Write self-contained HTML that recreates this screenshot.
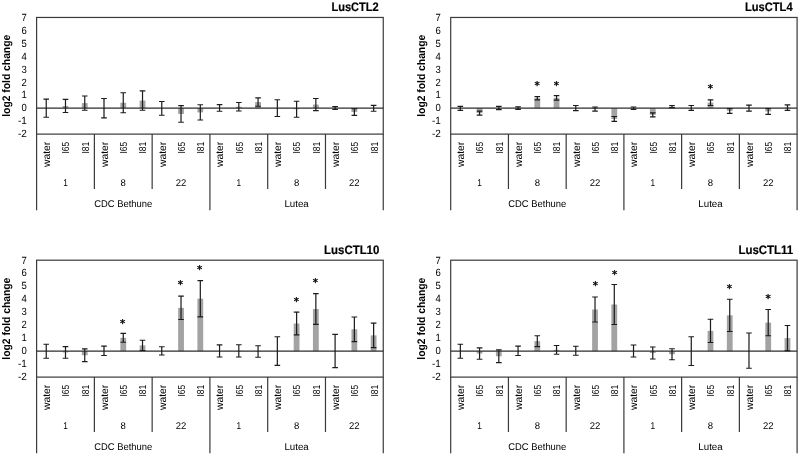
<!DOCTYPE html>
<html lang="en">
<head>
<meta charset="utf-8">
<title>log2 fold change of LusCTL genes</title>
<style>
html,body{margin:0;padding:0;background:#fff;}
body{width:800px;height:456px;overflow:hidden;}
svg{display:block;}
svg text{font-family:"Liberation Sans","DejaVu Sans",sans-serif;fill:#000;text-rendering:geometricPrecision;}
svg text.st{font-family:"DejaVu Sans","Liberation Sans",sans-serif;font-weight:normal;font-size:10.5px;stroke:#000;stroke-width:0.38px;}
</style>
</head>
<body>
<svg width="800" height="456" viewBox="0 0 800 456">
<defs><filter id="soft" x="0" y="0" width="800" height="456" filterUnits="userSpaceOnUse"><feGaussianBlur stdDeviation="0.35"/></filter></defs>
<rect x="0" y="0" width="800" height="456" fill="#ffffff"/>
<g filter="url(#soft)">
<g>
<rect x="62.59" y="105.95" width="5.8" height="2.27" fill="#a3a3a3"/>
<rect x="81.85" y="103.12" width="5.8" height="5.09" fill="#a3a3a3"/>
<rect x="120.36" y="102.75" width="5.8" height="5.47" fill="#a3a3a3"/>
<rect x="139.62" y="100.58" width="5.8" height="7.64" fill="#a3a3a3"/>
<rect x="178.14" y="108.22" width="5.8" height="5.7" fill="#a3a3a3"/>
<rect x="197.4" y="108.22" width="5.8" height="4.16" fill="#a3a3a3"/>
<rect x="235.91" y="106.75" width="5.8" height="1.47" fill="#a3a3a3"/>
<rect x="255.17" y="102.08" width="5.8" height="6.14" fill="#a3a3a3"/>
<rect x="293.69" y="108.22" width="5.8" height="1.03" fill="#a3a3a3"/>
<rect x="312.95" y="104.55" width="5.8" height="3.67" fill="#a3a3a3"/>
<rect x="351.46" y="108.22" width="5.8" height="3.86" fill="#a3a3a3"/>
<rect x="36.6" y="17.45" width="346.65" height="116.65" fill="none" stroke="#3a3a3a" stroke-width="1.2"/>
<line x1="36.6" y1="108.22" x2="383.25" y2="108.22" stroke="#2c2c2c" stroke-width="1.3"/>
<path d="M46.23 99.2V117.25M43.43 99.2h5.6M43.43 117.25h5.6M65.49 99.4V112.5M62.69 99.4h5.6M62.69 112.5h5.6M84.75 96V110.25M81.95 96h5.6M81.95 110.25h5.6M104 98.5V117.9M101.2 98.5h5.6M101.2 117.9h5.6M123.26 92.75V112.75M120.46 92.75h5.6M120.46 112.75h5.6M142.52 90.9V110.25M139.72 90.9h5.6M139.72 110.25h5.6M161.78 101.5V115.25M158.98 101.5h5.6M158.98 115.25h5.6M181.04 105.6V122.25M178.24 105.6h5.6M178.24 122.25h5.6M200.3 104.75V120M197.5 104.75h5.6M197.5 120h5.6M219.55 104.6V111.25M216.75 104.6h5.6M216.75 111.25h5.6M238.81 102.5V111M236.01 102.5h5.6M236.01 111h5.6M258.07 97.9V106.25M255.27 97.9h5.6M255.27 106.25h5.6M277.33 99.75V116.5M274.53 99.75h5.6M274.53 116.5h5.6M296.59 101.25V117.25M293.79 101.25h5.6M293.79 117.25h5.6M315.85 98.5V110.6M313.05 98.5h5.6M313.05 110.6h5.6M335.1 106.6V109.5M332.3 106.6h5.6M332.3 109.5h5.6M354.36 108.75V115.4M351.56 108.75h5.6M351.56 115.4h5.6M373.62 105.4V111.25M370.82 105.4h5.6M370.82 111.25h5.6" fill="none" stroke="#1a1a1a" stroke-width="1.2"/>
<path d="M36.6 134.1V210.3M94.38 134.1V188.9M152.15 134.1V188.9M209.92 134.1V210.3M267.7 134.1V188.9M325.48 134.1V188.9M383.25 134.1V210.3" fill="none" stroke="#3a3a3a" stroke-width="1.2"/>
<text x="378.75" y="11.25" text-anchor="end" font-weight="bold" font-size="12.3" stroke="#000" stroke-width="0.2" textLength="47.3" lengthAdjust="spacingAndGlyphs">LusCTL2</text>
<text x="26.8" y="137.34" text-anchor="end" font-size="10.4" textLength="8.9" lengthAdjust="spacingAndGlyphs">-2</text>
<text x="26.8" y="124.38" text-anchor="end" font-size="10.4" textLength="8.9" lengthAdjust="spacingAndGlyphs">-1</text>
<text x="26.8" y="111.42" text-anchor="end" font-size="10.4" textLength="5.3" lengthAdjust="spacingAndGlyphs">0</text>
<text x="26.8" y="98.46" text-anchor="end" font-size="10.4" textLength="5.3" lengthAdjust="spacingAndGlyphs">1</text>
<text x="26.8" y="85.5" text-anchor="end" font-size="10.4" textLength="5.3" lengthAdjust="spacingAndGlyphs">2</text>
<text x="26.8" y="72.54" text-anchor="end" font-size="10.4" textLength="5.3" lengthAdjust="spacingAndGlyphs">3</text>
<text x="26.8" y="59.58" text-anchor="end" font-size="10.4" textLength="5.3" lengthAdjust="spacingAndGlyphs">4</text>
<text x="26.8" y="46.61" text-anchor="end" font-size="10.4" textLength="5.3" lengthAdjust="spacingAndGlyphs">5</text>
<text x="26.8" y="33.65" text-anchor="end" font-size="10.4" textLength="5.3" lengthAdjust="spacingAndGlyphs">6</text>
<text x="26.8" y="20.69" text-anchor="end" font-size="10.4" textLength="5.3" lengthAdjust="spacingAndGlyphs">7</text>
<text transform="translate(10.4 75.77) rotate(-90)" text-anchor="middle" font-weight="bold" font-size="11" textLength="82" lengthAdjust="spacingAndGlyphs">log2 fold change</text>
<text transform="translate(50.13 141.7) rotate(-90)" text-anchor="end" font-size="10.2" textLength="25.3" lengthAdjust="spacingAndGlyphs">water</text>
<text transform="translate(69.39 141.7) rotate(-90)" text-anchor="end" font-size="10.2" textLength="11.8" lengthAdjust="spacingAndGlyphs">I65</text>
<text transform="translate(88.65 141.7) rotate(-90)" text-anchor="end" font-size="10.2" textLength="11.8" lengthAdjust="spacingAndGlyphs">I81</text>
<text transform="translate(107.9 141.7) rotate(-90)" text-anchor="end" font-size="10.2" textLength="25.3" lengthAdjust="spacingAndGlyphs">water</text>
<text transform="translate(127.16 141.7) rotate(-90)" text-anchor="end" font-size="10.2" textLength="11.8" lengthAdjust="spacingAndGlyphs">I65</text>
<text transform="translate(146.42 141.7) rotate(-90)" text-anchor="end" font-size="10.2" textLength="11.8" lengthAdjust="spacingAndGlyphs">I81</text>
<text transform="translate(165.68 141.7) rotate(-90)" text-anchor="end" font-size="10.2" textLength="25.3" lengthAdjust="spacingAndGlyphs">water</text>
<text transform="translate(184.94 141.7) rotate(-90)" text-anchor="end" font-size="10.2" textLength="11.8" lengthAdjust="spacingAndGlyphs">I65</text>
<text transform="translate(204.2 141.7) rotate(-90)" text-anchor="end" font-size="10.2" textLength="11.8" lengthAdjust="spacingAndGlyphs">I81</text>
<text transform="translate(223.45 141.7) rotate(-90)" text-anchor="end" font-size="10.2" textLength="25.3" lengthAdjust="spacingAndGlyphs">water</text>
<text transform="translate(242.71 141.7) rotate(-90)" text-anchor="end" font-size="10.2" textLength="11.8" lengthAdjust="spacingAndGlyphs">I65</text>
<text transform="translate(261.97 141.7) rotate(-90)" text-anchor="end" font-size="10.2" textLength="11.8" lengthAdjust="spacingAndGlyphs">I81</text>
<text transform="translate(281.23 141.7) rotate(-90)" text-anchor="end" font-size="10.2" textLength="25.3" lengthAdjust="spacingAndGlyphs">water</text>
<text transform="translate(300.49 141.7) rotate(-90)" text-anchor="end" font-size="10.2" textLength="11.8" lengthAdjust="spacingAndGlyphs">I65</text>
<text transform="translate(319.75 141.7) rotate(-90)" text-anchor="end" font-size="10.2" textLength="11.8" lengthAdjust="spacingAndGlyphs">I81</text>
<text transform="translate(339 141.7) rotate(-90)" text-anchor="end" font-size="10.2" textLength="25.3" lengthAdjust="spacingAndGlyphs">water</text>
<text transform="translate(358.26 141.7) rotate(-90)" text-anchor="end" font-size="10.2" textLength="11.8" lengthAdjust="spacingAndGlyphs">I65</text>
<text transform="translate(377.52 141.7) rotate(-90)" text-anchor="end" font-size="10.2" textLength="11.8" lengthAdjust="spacingAndGlyphs">I81</text>
<text x="65.49" y="185.5" text-anchor="middle" font-size="9.8" textLength="4.6" lengthAdjust="spacingAndGlyphs">1</text>
<text x="123.26" y="185.5" text-anchor="middle" font-size="9.8" textLength="5.3" lengthAdjust="spacingAndGlyphs">8</text>
<text x="181.04" y="185.5" text-anchor="middle" font-size="9.8" textLength="10.6" lengthAdjust="spacingAndGlyphs">22</text>
<text x="238.81" y="185.5" text-anchor="middle" font-size="9.8" textLength="4.6" lengthAdjust="spacingAndGlyphs">1</text>
<text x="296.59" y="185.5" text-anchor="middle" font-size="9.8" textLength="5.3" lengthAdjust="spacingAndGlyphs">8</text>
<text x="354.36" y="185.5" text-anchor="middle" font-size="9.8" textLength="10.6" lengthAdjust="spacingAndGlyphs">22</text>
<text x="123.26" y="207" text-anchor="middle" font-size="9.8" textLength="58" lengthAdjust="spacingAndGlyphs">CDC Bethune</text>
<text x="296.59" y="207" text-anchor="middle" font-size="9.8" textLength="24.4" lengthAdjust="spacingAndGlyphs">Lutea</text>
</g>
<g>
<rect x="476.67" y="108.22" width="5.8" height="4.88" fill="#a3a3a3"/>
<rect x="495.91" y="107.95" width="5.8" height="0.27" fill="#a3a3a3"/>
<rect x="534.4" y="98.25" width="5.8" height="9.97" fill="#a3a3a3"/>
<rect x="553.64" y="97.9" width="5.8" height="10.32" fill="#a3a3a3"/>
<rect x="592.13" y="108.22" width="5.8" height="0.83" fill="#a3a3a3"/>
<rect x="611.38" y="108.22" width="5.8" height="10.73" fill="#a3a3a3"/>
<rect x="649.87" y="108.22" width="5.8" height="6.63" fill="#a3a3a3"/>
<rect x="669.11" y="106.6" width="5.8" height="1.62" fill="#a3a3a3"/>
<rect x="707.6" y="102.65" width="5.8" height="5.57" fill="#a3a3a3"/>
<rect x="726.84" y="108.22" width="5.8" height="2.68" fill="#a3a3a3"/>
<rect x="765.33" y="108.22" width="5.8" height="3.18" fill="#a3a3a3"/>
<rect x="784.58" y="107.6" width="5.8" height="0.62" fill="#a3a3a3"/>
<rect x="450.7" y="17.45" width="346.4" height="116.65" fill="none" stroke="#3a3a3a" stroke-width="1.2"/>
<line x1="450.7" y1="108.22" x2="797.1" y2="108.22" stroke="#2c2c2c" stroke-width="1.3"/>
<path d="M460.32 106.3V110.4M457.52 106.3h5.6M457.52 110.4h5.6M479.57 111.1V115.1M476.77 111.1h5.6M476.77 115.1h5.6M498.81 106.3V109.6M496.01 106.3h5.6M496.01 109.6h5.6M518.06 106.9V109.4M515.26 106.9h5.6M515.26 109.4h5.6M537.3 96.7V99.8M534.5 96.7h5.6M534.5 99.8h5.6M556.54 95.7V100.1M553.74 95.7h5.6M553.74 100.1h5.6M575.79 105.5V110.7M572.99 105.5h5.6M572.99 110.7h5.6M595.03 107V111.1M592.23 107h5.6M592.23 111.1h5.6M614.28 116.5V121.4M611.48 116.5h5.6M611.48 121.4h5.6M633.52 107V109.4M630.72 107h5.6M630.72 109.4h5.6M652.77 112.8V116.9M649.97 112.8h5.6M649.97 116.9h5.6M672.01 105.5V107.7M669.21 105.5h5.6M669.21 107.7h5.6M691.26 105.5V110.4M688.46 105.5h5.6M688.46 110.4h5.6M710.5 99.8V105.5M707.7 99.8h5.6M707.7 105.5h5.6M729.74 108.5V113.3M726.94 108.5h5.6M726.94 113.3h5.6M748.99 105.2V111.1M746.19 105.2h5.6M746.19 111.1h5.6M768.23 108.5V114.3M765.43 108.5h5.6M765.43 114.3h5.6M787.48 104.8V110.4M784.68 104.8h5.6M784.68 110.4h5.6" fill="none" stroke="#1a1a1a" stroke-width="1.2"/>
<path d="M450.7 134.1V210.3M508.43 134.1V188.9M566.17 134.1V188.9M623.9 134.1V210.3M681.63 134.1V188.9M739.37 134.1V188.9M797.1 134.1V210.3" fill="none" stroke="#3a3a3a" stroke-width="1.2"/>
<text x="792.6" y="11.25" text-anchor="end" font-weight="bold" font-size="12.3" stroke="#000" stroke-width="0.2" textLength="47.6" lengthAdjust="spacingAndGlyphs">LusCTL4</text>
<text x="440.9" y="137.34" text-anchor="end" font-size="10.4" textLength="8.9" lengthAdjust="spacingAndGlyphs">-2</text>
<text x="440.9" y="124.38" text-anchor="end" font-size="10.4" textLength="8.9" lengthAdjust="spacingAndGlyphs">-1</text>
<text x="440.9" y="111.42" text-anchor="end" font-size="10.4" textLength="5.3" lengthAdjust="spacingAndGlyphs">0</text>
<text x="440.9" y="98.46" text-anchor="end" font-size="10.4" textLength="5.3" lengthAdjust="spacingAndGlyphs">1</text>
<text x="440.9" y="85.5" text-anchor="end" font-size="10.4" textLength="5.3" lengthAdjust="spacingAndGlyphs">2</text>
<text x="440.9" y="72.54" text-anchor="end" font-size="10.4" textLength="5.3" lengthAdjust="spacingAndGlyphs">3</text>
<text x="440.9" y="59.58" text-anchor="end" font-size="10.4" textLength="5.3" lengthAdjust="spacingAndGlyphs">4</text>
<text x="440.9" y="46.61" text-anchor="end" font-size="10.4" textLength="5.3" lengthAdjust="spacingAndGlyphs">5</text>
<text x="440.9" y="33.65" text-anchor="end" font-size="10.4" textLength="5.3" lengthAdjust="spacingAndGlyphs">6</text>
<text x="440.9" y="20.69" text-anchor="end" font-size="10.4" textLength="5.3" lengthAdjust="spacingAndGlyphs">7</text>
<text transform="translate(425.4 75.77) rotate(-90)" text-anchor="middle" font-weight="bold" font-size="11" textLength="82" lengthAdjust="spacingAndGlyphs">log2 fold change</text>
<text transform="translate(464.22 141.7) rotate(-90)" text-anchor="end" font-size="10.2" textLength="25.3" lengthAdjust="spacingAndGlyphs">water</text>
<text transform="translate(483.47 141.7) rotate(-90)" text-anchor="end" font-size="10.2" textLength="11.8" lengthAdjust="spacingAndGlyphs">I65</text>
<text transform="translate(502.71 141.7) rotate(-90)" text-anchor="end" font-size="10.2" textLength="11.8" lengthAdjust="spacingAndGlyphs">I81</text>
<text transform="translate(521.96 141.7) rotate(-90)" text-anchor="end" font-size="10.2" textLength="25.3" lengthAdjust="spacingAndGlyphs">water</text>
<text transform="translate(541.2 141.7) rotate(-90)" text-anchor="end" font-size="10.2" textLength="11.8" lengthAdjust="spacingAndGlyphs">I65</text>
<text transform="translate(560.44 141.7) rotate(-90)" text-anchor="end" font-size="10.2" textLength="11.8" lengthAdjust="spacingAndGlyphs">I81</text>
<text transform="translate(579.69 141.7) rotate(-90)" text-anchor="end" font-size="10.2" textLength="25.3" lengthAdjust="spacingAndGlyphs">water</text>
<text transform="translate(598.93 141.7) rotate(-90)" text-anchor="end" font-size="10.2" textLength="11.8" lengthAdjust="spacingAndGlyphs">I65</text>
<text transform="translate(618.18 141.7) rotate(-90)" text-anchor="end" font-size="10.2" textLength="11.8" lengthAdjust="spacingAndGlyphs">I81</text>
<text transform="translate(637.42 141.7) rotate(-90)" text-anchor="end" font-size="10.2" textLength="25.3" lengthAdjust="spacingAndGlyphs">water</text>
<text transform="translate(656.67 141.7) rotate(-90)" text-anchor="end" font-size="10.2" textLength="11.8" lengthAdjust="spacingAndGlyphs">I65</text>
<text transform="translate(675.91 141.7) rotate(-90)" text-anchor="end" font-size="10.2" textLength="11.8" lengthAdjust="spacingAndGlyphs">I81</text>
<text transform="translate(695.16 141.7) rotate(-90)" text-anchor="end" font-size="10.2" textLength="25.3" lengthAdjust="spacingAndGlyphs">water</text>
<text transform="translate(714.4 141.7) rotate(-90)" text-anchor="end" font-size="10.2" textLength="11.8" lengthAdjust="spacingAndGlyphs">I65</text>
<text transform="translate(733.64 141.7) rotate(-90)" text-anchor="end" font-size="10.2" textLength="11.8" lengthAdjust="spacingAndGlyphs">I81</text>
<text transform="translate(752.89 141.7) rotate(-90)" text-anchor="end" font-size="10.2" textLength="25.3" lengthAdjust="spacingAndGlyphs">water</text>
<text transform="translate(772.13 141.7) rotate(-90)" text-anchor="end" font-size="10.2" textLength="11.8" lengthAdjust="spacingAndGlyphs">I65</text>
<text transform="translate(791.38 141.7) rotate(-90)" text-anchor="end" font-size="10.2" textLength="11.8" lengthAdjust="spacingAndGlyphs">I81</text>
<text x="479.57" y="185.5" text-anchor="middle" font-size="9.8" textLength="4.6" lengthAdjust="spacingAndGlyphs">1</text>
<text x="537.3" y="185.5" text-anchor="middle" font-size="9.8" textLength="5.3" lengthAdjust="spacingAndGlyphs">8</text>
<text x="595.03" y="185.5" text-anchor="middle" font-size="9.8" textLength="10.6" lengthAdjust="spacingAndGlyphs">22</text>
<text x="652.77" y="185.5" text-anchor="middle" font-size="9.8" textLength="4.6" lengthAdjust="spacingAndGlyphs">1</text>
<text x="710.5" y="185.5" text-anchor="middle" font-size="9.8" textLength="5.3" lengthAdjust="spacingAndGlyphs">8</text>
<text x="768.23" y="185.5" text-anchor="middle" font-size="9.8" textLength="10.6" lengthAdjust="spacingAndGlyphs">22</text>
<text x="537.3" y="207" text-anchor="middle" font-size="9.8" textLength="58" lengthAdjust="spacingAndGlyphs">CDC Bethune</text>
<text x="710.5" y="207" text-anchor="middle" font-size="9.8" textLength="24.4" lengthAdjust="spacingAndGlyphs">Lutea</text>
<text class="st" x="537.16" y="89.03" text-anchor="middle">*</text>
<text class="st" x="556.36" y="88.93" text-anchor="middle">*</text>
<text class="st" x="710.49" y="91.98" text-anchor="middle">*</text>
</g>
<g>
<rect x="62.59" y="351.22" width="5.8" height="1.2" fill="#a3a3a3"/>
<rect x="81.85" y="351.22" width="5.8" height="4.03" fill="#a3a3a3"/>
<rect x="120.36" y="337.82" width="5.8" height="13.4" fill="#a3a3a3"/>
<rect x="139.62" y="345.38" width="5.8" height="5.85" fill="#a3a3a3"/>
<rect x="178.14" y="307.85" width="5.8" height="43.37" fill="#a3a3a3"/>
<rect x="197.4" y="298.7" width="5.8" height="52.52" fill="#a3a3a3"/>
<rect x="235.91" y="350.88" width="5.8" height="0.35" fill="#a3a3a3"/>
<rect x="255.17" y="351.22" width="5.8" height="0.28" fill="#a3a3a3"/>
<rect x="293.69" y="323.5" width="5.8" height="27.72" fill="#a3a3a3"/>
<rect x="312.95" y="309" width="5.8" height="42.22" fill="#a3a3a3"/>
<rect x="351.46" y="329.3" width="5.8" height="21.92" fill="#a3a3a3"/>
<rect x="370.72" y="335.35" width="5.8" height="15.87" fill="#a3a3a3"/>
<rect x="36.6" y="260.2" width="346.65" height="116.9" fill="none" stroke="#3a3a3a" stroke-width="1.2"/>
<line x1="36.6" y1="351.22" x2="383.25" y2="351.22" stroke="#2c2c2c" stroke-width="1.3"/>
<path d="M46.23 344.25V358.25M43.43 344.25h5.6M43.43 358.25h5.6M65.49 346.6V358.25M62.69 346.6h5.6M62.69 358.25h5.6M84.75 348.9V361.6M81.95 348.9h5.6M81.95 361.6h5.6M104 346.1V355.5M101.2 346.1h5.6M101.2 355.5h5.6M123.26 333.4V342.25M120.46 333.4h5.6M120.46 342.25h5.6M142.52 340.25V350.5M139.72 340.25h5.6M139.72 350.5h5.6M161.78 346.75V355M158.98 346.75h5.6M158.98 355h5.6M181.04 296.2V319.5M178.24 296.2h5.6M178.24 319.5h5.6M200.3 280.6V316.8M197.5 280.6h5.6M197.5 316.8h5.6M219.55 344.9V357M216.75 344.9h5.6M216.75 357h5.6M238.81 344.75V357M236.01 344.75h5.6M236.01 357h5.6M258.07 345.75V357.25M255.27 345.75h5.6M255.27 357.25h5.6M277.33 336.75V365.4M274.53 336.75h5.6M274.53 365.4h5.6M296.59 312.2V334.8M293.79 312.2h5.6M293.79 334.8h5.6M315.85 293.7V324.3M313.05 293.7h5.6M313.05 324.3h5.6M335.1 334.3V367.6M332.3 334.3h5.6M332.3 367.6h5.6M354.36 317V341.6M351.56 317h5.6M351.56 341.6h5.6M373.62 323.1V347.6M370.82 323.1h5.6M370.82 347.6h5.6" fill="none" stroke="#1a1a1a" stroke-width="1.2"/>
<path d="M36.6 377.1V453.3M94.38 377.1V431.9M152.15 377.1V431.9M209.92 377.1V453.3M267.7 377.1V431.9M325.48 377.1V431.9M383.25 377.1V453.3" fill="none" stroke="#3a3a3a" stroke-width="1.2"/>
<text x="379.35" y="254" text-anchor="end" font-weight="bold" font-size="12.3" stroke="#000" stroke-width="0.2" textLength="55.3" lengthAdjust="spacingAndGlyphs">LusCTL10</text>
<text x="26.8" y="380.4" text-anchor="end" font-size="10.4" textLength="8.9" lengthAdjust="spacingAndGlyphs">-2</text>
<text x="26.8" y="367.41" text-anchor="end" font-size="10.4" textLength="8.9" lengthAdjust="spacingAndGlyphs">-1</text>
<text x="26.8" y="354.42" text-anchor="end" font-size="10.4" textLength="5.3" lengthAdjust="spacingAndGlyphs">0</text>
<text x="26.8" y="341.43" text-anchor="end" font-size="10.4" textLength="5.3" lengthAdjust="spacingAndGlyphs">1</text>
<text x="26.8" y="328.44" text-anchor="end" font-size="10.4" textLength="5.3" lengthAdjust="spacingAndGlyphs">2</text>
<text x="26.8" y="315.45" text-anchor="end" font-size="10.4" textLength="5.3" lengthAdjust="spacingAndGlyphs">3</text>
<text x="26.8" y="302.46" text-anchor="end" font-size="10.4" textLength="5.3" lengthAdjust="spacingAndGlyphs">4</text>
<text x="26.8" y="289.48" text-anchor="end" font-size="10.4" textLength="5.3" lengthAdjust="spacingAndGlyphs">5</text>
<text x="26.8" y="276.49" text-anchor="end" font-size="10.4" textLength="5.3" lengthAdjust="spacingAndGlyphs">6</text>
<text x="26.8" y="263.5" text-anchor="end" font-size="10.4" textLength="5.3" lengthAdjust="spacingAndGlyphs">7</text>
<text transform="translate(10.4 318.65) rotate(-90)" text-anchor="middle" font-weight="bold" font-size="11" textLength="82" lengthAdjust="spacingAndGlyphs">log2 fold change</text>
<text transform="translate(50.13 384.7) rotate(-90)" text-anchor="end" font-size="10.2" textLength="25.3" lengthAdjust="spacingAndGlyphs">water</text>
<text transform="translate(69.39 384.7) rotate(-90)" text-anchor="end" font-size="10.2" textLength="11.8" lengthAdjust="spacingAndGlyphs">I65</text>
<text transform="translate(88.65 384.7) rotate(-90)" text-anchor="end" font-size="10.2" textLength="11.8" lengthAdjust="spacingAndGlyphs">I81</text>
<text transform="translate(107.9 384.7) rotate(-90)" text-anchor="end" font-size="10.2" textLength="25.3" lengthAdjust="spacingAndGlyphs">water</text>
<text transform="translate(127.16 384.7) rotate(-90)" text-anchor="end" font-size="10.2" textLength="11.8" lengthAdjust="spacingAndGlyphs">I65</text>
<text transform="translate(146.42 384.7) rotate(-90)" text-anchor="end" font-size="10.2" textLength="11.8" lengthAdjust="spacingAndGlyphs">I81</text>
<text transform="translate(165.68 384.7) rotate(-90)" text-anchor="end" font-size="10.2" textLength="25.3" lengthAdjust="spacingAndGlyphs">water</text>
<text transform="translate(184.94 384.7) rotate(-90)" text-anchor="end" font-size="10.2" textLength="11.8" lengthAdjust="spacingAndGlyphs">I65</text>
<text transform="translate(204.2 384.7) rotate(-90)" text-anchor="end" font-size="10.2" textLength="11.8" lengthAdjust="spacingAndGlyphs">I81</text>
<text transform="translate(223.45 384.7) rotate(-90)" text-anchor="end" font-size="10.2" textLength="25.3" lengthAdjust="spacingAndGlyphs">water</text>
<text transform="translate(242.71 384.7) rotate(-90)" text-anchor="end" font-size="10.2" textLength="11.8" lengthAdjust="spacingAndGlyphs">I65</text>
<text transform="translate(261.97 384.7) rotate(-90)" text-anchor="end" font-size="10.2" textLength="11.8" lengthAdjust="spacingAndGlyphs">I81</text>
<text transform="translate(281.23 384.7) rotate(-90)" text-anchor="end" font-size="10.2" textLength="25.3" lengthAdjust="spacingAndGlyphs">water</text>
<text transform="translate(300.49 384.7) rotate(-90)" text-anchor="end" font-size="10.2" textLength="11.8" lengthAdjust="spacingAndGlyphs">I65</text>
<text transform="translate(319.75 384.7) rotate(-90)" text-anchor="end" font-size="10.2" textLength="11.8" lengthAdjust="spacingAndGlyphs">I81</text>
<text transform="translate(339 384.7) rotate(-90)" text-anchor="end" font-size="10.2" textLength="25.3" lengthAdjust="spacingAndGlyphs">water</text>
<text transform="translate(358.26 384.7) rotate(-90)" text-anchor="end" font-size="10.2" textLength="11.8" lengthAdjust="spacingAndGlyphs">I65</text>
<text transform="translate(377.52 384.7) rotate(-90)" text-anchor="end" font-size="10.2" textLength="11.8" lengthAdjust="spacingAndGlyphs">I81</text>
<text x="65.49" y="428.5" text-anchor="middle" font-size="9.8" textLength="4.6" lengthAdjust="spacingAndGlyphs">1</text>
<text x="123.26" y="428.5" text-anchor="middle" font-size="9.8" textLength="5.3" lengthAdjust="spacingAndGlyphs">8</text>
<text x="181.04" y="428.5" text-anchor="middle" font-size="9.8" textLength="10.6" lengthAdjust="spacingAndGlyphs">22</text>
<text x="238.81" y="428.5" text-anchor="middle" font-size="9.8" textLength="4.6" lengthAdjust="spacingAndGlyphs">1</text>
<text x="296.59" y="428.5" text-anchor="middle" font-size="9.8" textLength="5.3" lengthAdjust="spacingAndGlyphs">8</text>
<text x="354.36" y="428.5" text-anchor="middle" font-size="9.8" textLength="10.6" lengthAdjust="spacingAndGlyphs">22</text>
<text x="123.26" y="450" text-anchor="middle" font-size="9.8" textLength="58" lengthAdjust="spacingAndGlyphs">CDC Bethune</text>
<text x="296.59" y="450" text-anchor="middle" font-size="9.8" textLength="24.4" lengthAdjust="spacingAndGlyphs">Lutea</text>
<text class="st" x="122.66" y="326.98" text-anchor="middle">*</text>
<text class="st" x="180.31" y="287.88" text-anchor="middle">*</text>
<text class="st" x="199.56" y="272.78" text-anchor="middle">*</text>
<text class="st" x="296.32" y="305.08" text-anchor="middle">*</text>
<text class="st" x="315.46" y="286.21" text-anchor="middle">*</text>
</g>
<g>
<rect x="476.67" y="351.22" width="5.8" height="2.35" fill="#a3a3a3"/>
<rect x="495.91" y="351.22" width="5.8" height="5.03" fill="#a3a3a3"/>
<rect x="534.4" y="341.15" width="5.8" height="10.07" fill="#a3a3a3"/>
<rect x="553.64" y="349.88" width="5.8" height="1.35" fill="#a3a3a3"/>
<rect x="592.13" y="309.5" width="5.8" height="41.72" fill="#a3a3a3"/>
<rect x="611.38" y="304.5" width="5.8" height="46.72" fill="#a3a3a3"/>
<rect x="649.87" y="351.22" width="5.8" height="1.78" fill="#a3a3a3"/>
<rect x="669.11" y="351.22" width="5.8" height="3.03" fill="#a3a3a3"/>
<rect x="707.6" y="330.88" width="5.8" height="20.35" fill="#a3a3a3"/>
<rect x="726.84" y="315.38" width="5.8" height="35.85" fill="#a3a3a3"/>
<rect x="765.33" y="322.62" width="5.8" height="28.6" fill="#a3a3a3"/>
<rect x="784.58" y="338.12" width="5.8" height="13.1" fill="#a3a3a3"/>
<rect x="450.7" y="260.2" width="346.4" height="116.9" fill="none" stroke="#3a3a3a" stroke-width="1.2"/>
<line x1="450.7" y1="351.22" x2="797.1" y2="351.22" stroke="#2c2c2c" stroke-width="1.3"/>
<path d="M460.32 344.25V358.25M457.52 344.25h5.6M457.52 358.25h5.6M479.57 347.9V359.25M476.77 347.9h5.6M476.77 359.25h5.6M498.81 349.9V362.6M496.01 349.9h5.6M496.01 362.6h5.6M518.06 346.1V355.5M515.26 346.1h5.6M515.26 355.5h5.6M537.3 335.75V346.55M534.5 335.75h5.6M534.5 346.55h5.6M556.54 345.5V354.25M553.74 345.5h5.6M553.74 354.25h5.6M575.79 346.25V355.25M572.99 346.25h5.6M572.99 355.25h5.6M595.03 297V322M592.23 297h5.6M592.23 322h5.6M614.28 284.5V324.5M611.48 284.5h5.6M611.48 324.5h5.6M633.52 345V357M630.72 345h5.6M630.72 357h5.6M652.77 347V359M649.97 347h5.6M649.97 359h5.6M672.01 348.75V359.75M669.21 348.75h5.6M669.21 359.75h5.6M691.26 336.75V365.5M688.46 336.75h5.6M688.46 365.5h5.6M710.5 319.25V342.5M707.7 319.25h5.6M707.7 342.5h5.6M729.74 299.25V331.5M726.94 299.25h5.6M726.94 331.5h5.6M748.99 333V368.25M746.19 333h5.6M746.19 368.25h5.6M768.23 309.5V335.75M765.43 309.5h5.6M765.43 335.75h5.6M787.48 325.5V350.75M784.68 325.5h5.6M784.68 350.75h5.6" fill="none" stroke="#1a1a1a" stroke-width="1.2"/>
<path d="M450.7 377.1V453.3M508.43 377.1V431.9M566.17 377.1V431.9M623.9 377.1V453.3M681.63 377.1V431.9M739.37 377.1V431.9M797.1 377.1V453.3" fill="none" stroke="#3a3a3a" stroke-width="1.2"/>
<text x="793.2" y="254" text-anchor="end" font-weight="bold" font-size="12.3" stroke="#000" stroke-width="0.2" textLength="54.8" lengthAdjust="spacingAndGlyphs">LusCTL11</text>
<text x="440.9" y="380.4" text-anchor="end" font-size="10.4" textLength="8.9" lengthAdjust="spacingAndGlyphs">-2</text>
<text x="440.9" y="367.41" text-anchor="end" font-size="10.4" textLength="8.9" lengthAdjust="spacingAndGlyphs">-1</text>
<text x="440.9" y="354.42" text-anchor="end" font-size="10.4" textLength="5.3" lengthAdjust="spacingAndGlyphs">0</text>
<text x="440.9" y="341.43" text-anchor="end" font-size="10.4" textLength="5.3" lengthAdjust="spacingAndGlyphs">1</text>
<text x="440.9" y="328.44" text-anchor="end" font-size="10.4" textLength="5.3" lengthAdjust="spacingAndGlyphs">2</text>
<text x="440.9" y="315.45" text-anchor="end" font-size="10.4" textLength="5.3" lengthAdjust="spacingAndGlyphs">3</text>
<text x="440.9" y="302.46" text-anchor="end" font-size="10.4" textLength="5.3" lengthAdjust="spacingAndGlyphs">4</text>
<text x="440.9" y="289.48" text-anchor="end" font-size="10.4" textLength="5.3" lengthAdjust="spacingAndGlyphs">5</text>
<text x="440.9" y="276.49" text-anchor="end" font-size="10.4" textLength="5.3" lengthAdjust="spacingAndGlyphs">6</text>
<text x="440.9" y="263.5" text-anchor="end" font-size="10.4" textLength="5.3" lengthAdjust="spacingAndGlyphs">7</text>
<text transform="translate(425.4 318.65) rotate(-90)" text-anchor="middle" font-weight="bold" font-size="11" textLength="82" lengthAdjust="spacingAndGlyphs">log2 fold change</text>
<text transform="translate(464.22 384.7) rotate(-90)" text-anchor="end" font-size="10.2" textLength="25.3" lengthAdjust="spacingAndGlyphs">water</text>
<text transform="translate(483.47 384.7) rotate(-90)" text-anchor="end" font-size="10.2" textLength="11.8" lengthAdjust="spacingAndGlyphs">I65</text>
<text transform="translate(502.71 384.7) rotate(-90)" text-anchor="end" font-size="10.2" textLength="11.8" lengthAdjust="spacingAndGlyphs">I81</text>
<text transform="translate(521.96 384.7) rotate(-90)" text-anchor="end" font-size="10.2" textLength="25.3" lengthAdjust="spacingAndGlyphs">water</text>
<text transform="translate(541.2 384.7) rotate(-90)" text-anchor="end" font-size="10.2" textLength="11.8" lengthAdjust="spacingAndGlyphs">I65</text>
<text transform="translate(560.44 384.7) rotate(-90)" text-anchor="end" font-size="10.2" textLength="11.8" lengthAdjust="spacingAndGlyphs">I81</text>
<text transform="translate(579.69 384.7) rotate(-90)" text-anchor="end" font-size="10.2" textLength="25.3" lengthAdjust="spacingAndGlyphs">water</text>
<text transform="translate(598.93 384.7) rotate(-90)" text-anchor="end" font-size="10.2" textLength="11.8" lengthAdjust="spacingAndGlyphs">I65</text>
<text transform="translate(618.18 384.7) rotate(-90)" text-anchor="end" font-size="10.2" textLength="11.8" lengthAdjust="spacingAndGlyphs">I81</text>
<text transform="translate(637.42 384.7) rotate(-90)" text-anchor="end" font-size="10.2" textLength="25.3" lengthAdjust="spacingAndGlyphs">water</text>
<text transform="translate(656.67 384.7) rotate(-90)" text-anchor="end" font-size="10.2" textLength="11.8" lengthAdjust="spacingAndGlyphs">I65</text>
<text transform="translate(675.91 384.7) rotate(-90)" text-anchor="end" font-size="10.2" textLength="11.8" lengthAdjust="spacingAndGlyphs">I81</text>
<text transform="translate(695.16 384.7) rotate(-90)" text-anchor="end" font-size="10.2" textLength="25.3" lengthAdjust="spacingAndGlyphs">water</text>
<text transform="translate(714.4 384.7) rotate(-90)" text-anchor="end" font-size="10.2" textLength="11.8" lengthAdjust="spacingAndGlyphs">I65</text>
<text transform="translate(733.64 384.7) rotate(-90)" text-anchor="end" font-size="10.2" textLength="11.8" lengthAdjust="spacingAndGlyphs">I81</text>
<text transform="translate(752.89 384.7) rotate(-90)" text-anchor="end" font-size="10.2" textLength="25.3" lengthAdjust="spacingAndGlyphs">water</text>
<text transform="translate(772.13 384.7) rotate(-90)" text-anchor="end" font-size="10.2" textLength="11.8" lengthAdjust="spacingAndGlyphs">I65</text>
<text transform="translate(791.38 384.7) rotate(-90)" text-anchor="end" font-size="10.2" textLength="11.8" lengthAdjust="spacingAndGlyphs">I81</text>
<text x="479.57" y="428.5" text-anchor="middle" font-size="9.8" textLength="4.6" lengthAdjust="spacingAndGlyphs">1</text>
<text x="537.3" y="428.5" text-anchor="middle" font-size="9.8" textLength="5.3" lengthAdjust="spacingAndGlyphs">8</text>
<text x="595.03" y="428.5" text-anchor="middle" font-size="9.8" textLength="10.6" lengthAdjust="spacingAndGlyphs">22</text>
<text x="652.77" y="428.5" text-anchor="middle" font-size="9.8" textLength="4.6" lengthAdjust="spacingAndGlyphs">1</text>
<text x="710.5" y="428.5" text-anchor="middle" font-size="9.8" textLength="5.3" lengthAdjust="spacingAndGlyphs">8</text>
<text x="768.23" y="428.5" text-anchor="middle" font-size="9.8" textLength="10.6" lengthAdjust="spacingAndGlyphs">22</text>
<text x="537.3" y="450" text-anchor="middle" font-size="9.8" textLength="58" lengthAdjust="spacingAndGlyphs">CDC Bethune</text>
<text x="710.5" y="450" text-anchor="middle" font-size="9.8" textLength="24.4" lengthAdjust="spacingAndGlyphs">Lutea</text>
<text class="st" x="595.32" y="288.88" text-anchor="middle">*</text>
<text class="st" x="614.53" y="277.78" text-anchor="middle">*</text>
<text class="st" x="729.3" y="291.53" text-anchor="middle">*</text>
<text class="st" x="768.19" y="301.98" text-anchor="middle">*</text>
</g>
</g>
</svg>
</body>
</html>
